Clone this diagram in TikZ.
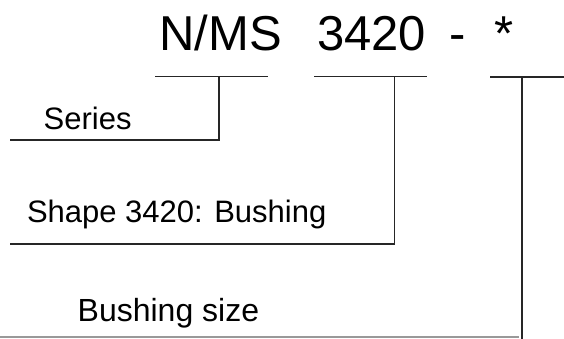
\documentclass[tikz,border=0pt]{standalone}
\usepackage{fontspec}
\setmainfont{Liberation Sans}
\begin{document}
\begin{tikzpicture}[x=1pt,y=-1pt,
  big/.style={anchor=base west,inner sep=0pt,font=\fontsize{49}{49}\selectfont},
  lbl/.style={anchor=base west,inner sep=0pt,font=\fontsize{31}{31}\selectfont},
  ln/.style={line width=1.6pt,draw=black!85},
  faint/.style={line width=1.2pt,draw=black!40}]
\useasboundingbox (0,0) rectangle (564,339);
% title
\node[big] (series) at (159,51) {N/MS};
\node[big] (shape) at (317,51) {3420};
\node[big] (dash) at (449,51) {-};
\node[big] (size) at (494,51) {*};
% labels
\node[lbl] (lseries) at (43.5,130) {Series};
\node[lbl] (lshape) at (26.8,222) {Shape 3420: Bushing};
\node[lbl,font=\fontsize{32}{32}\selectfont] (lsize) at (77.5,321) {Bushing size};
% coordinates
\coordinate (b1l) at (155,76.5);
\coordinate (b1r) at (268,76.5);
\coordinate (t1) at (219,76.5);
\coordinate (e1) at (219,140);
\coordinate (s1) at (10,140);
\coordinate (b2l) at (314,76.5);
\coordinate (b2r) at (427,76.5);
\coordinate (t2) at (394.5,76.5);
\coordinate (e2) at (394.5,244);
\coordinate (s2) at (10,244);
\coordinate (b3l) at (490,77);
\coordinate (b3r) at (564,77);
\coordinate (t3) at (521.7,77);
\coordinate (e3) at (521.7,339);
\coordinate (s3) at (0,337);
\coordinate (s3r) at (519,337);
% lines
\draw[ln] (b1l) -- (b1r);
\draw[ln] (t1) -- (e1) -- (s1);
\draw[ln] (b2l) -- (b2r);
\draw[ln] (t2) -- (e2) -- (s2);
\draw[ln] (b3l) -- (b3r);
\draw[ln] (t3) -- (e3);
\draw[faint] (s3) -- (s3r);
\end{tikzpicture}
\end{document}
